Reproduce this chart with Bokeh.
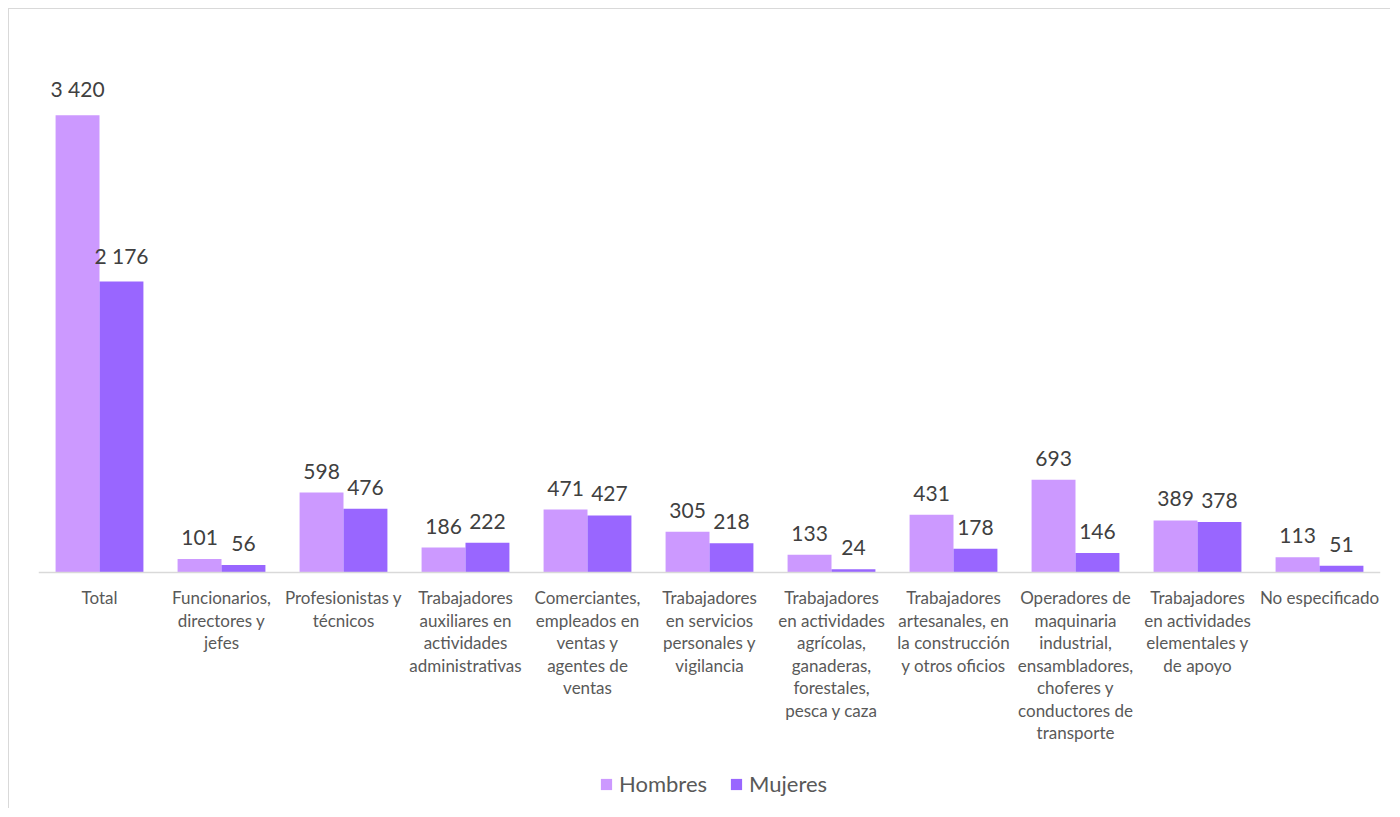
from bokeh.plotting import figure
from bokeh.models import ColumnDataSource, FactorRange, LabelSet, Legend, LegendItem
from bokeh.core.properties import value
from bokeh.transform import dodge
from bokeh.embed import file_html
from bokeh.resources import INLINE

categories = [
    "Total",
    "Funcionarios,\ndirectores y\njefes",
    "Profesionistas y\ntécnicos",
    "Trabajadores\nauxiliares en\nactividades\nadministrativas",
    "Comerciantes,\nempleados en\nventas y\nagentes de\nventas",
    "Trabajadores\nen servicios\npersonales y\nvigilancia",
    "Trabajadores\nen actividades\nagrícolas,\nganaderas,\nforestales,\npesca y caza",
    "Trabajadores\nartesanales, en\nla construcción\ny otros oficios",
    "Operadores de\nmaquinaria\nindustrial,\nensambladores,\nchoferes y\nconductores de\ntransporte",
    "Trabajadores\nen actividades\nelementales y\nde apoyo",
    "No especificado",
]
hombres = [3420, 101, 598, 186, 471, 305, 133, 431, 693, 389, 113]
mujeres = [2176, 56, 476, 222, 427, 218, 24, 178, 146, 378, 51]

def fmt(v):
    return f"{v:,}".replace(",", " ")

src = ColumnDataSource(dict(
    cat=categories, h=hombres, m=mujeres,
    hl=[fmt(v) for v in hombres], ml=[fmt(v) for v in mujeres],
))

FONT = "Lato"
C_H = "#CC99FF"
C_M = "#9966FF"

p = figure(frame_width=1342, frame_height=768, x_range=FactorRange(*categories, range_padding=0),
           y_range=(-1766, 3980), output_backend="svg", toolbar_location=None,
           min_border_left=29, min_border_right=10, min_border_top=31, min_border_bottom=0)
p.styles = {"border-left": "1.5px solid #D9D9D9", "border-top": "1.5px solid #D9D9D9",
            "margin-left": "8px", "margin-top": "8px"}
p.x_range.range_padding = 0
p.outline_line_color = None
p.grid.visible = False
p.yaxis.visible = False
p.background_fill_color = "white"
p.border_fill_color = "white"

xa = p.xaxis[0]
xa.fixed_location = 0
xa.axis_line_color = "#D9D9D9"
xa.axis_line_width = 1.5
xa.major_tick_line_color = None
xa.minor_tick_line_color = None
xa.major_label_text_font = FONT
xa.major_label_text_font_size = "17px"
xa.major_label_text_color = "#595959"
xa.major_label_text_line_height = 1.07
xa.major_label_standoff = 9

bw = 0.36
rh = p.vbar(x=dodge("cat", -0.18, range=p.x_range), top="h", width=bw, source=src,
            fill_color=C_H, line_color=None)
rm = p.vbar(x=dodge("cat", 0.18, range=p.x_range), top="m", width=bw, source=src,
            fill_color=C_M, line_color=None)

for col, lab, off in (("h", "hl", -0.18), ("m", "ml", 0.18)):
    ls = LabelSet(x=dodge("cat", off, range=p.x_range), y=col, text=lab, source=src,
                  text_align="center", text_baseline="bottom", y_offset=14,
                  text_font=value(FONT), text_font_size="21px", text_color="#404040")
    p.add_layout(ls)

legend = Legend(items=[LegendItem(label="Hombres", renderers=[rh]),
                       LegendItem(label="Mujeres", renderers=[rm])],
                location=(561, 11), orientation="horizontal",
                label_text_font=FONT, label_text_font_size="22px", label_text_color="#595959",
                glyph_width=14, glyph_height=14, spacing=22, label_standoff=6,
                border_line_color=None, background_fill_alpha=0, padding=0, margin=0)
p.add_layout(legend, "center")

open("out.html", "w").write(file_html(p, INLINE))
